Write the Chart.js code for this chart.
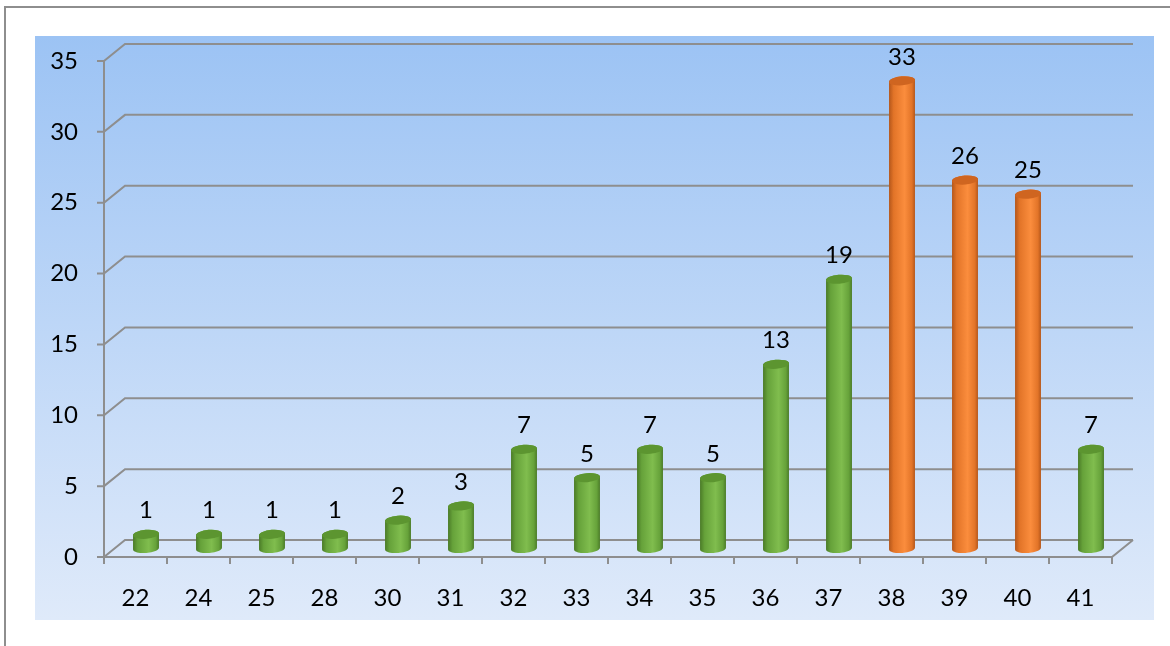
<!DOCTYPE html>
<html>
<head>
<meta charset="utf-8">
<title>Weeks</title>
<script src="https://cdn.jsdelivr.net/npm/chart.js@4.4.1/dist/chart.umd.min.js"></script>
<style>
  html, body { margin: 0; padding: 0; background: #fff; }
  #wrap { position: relative; width: 1170px; height: 646px; overflow: hidden; }
  #frame { position: absolute; left: 4px; top: 6px; width: 1200px; height: 700px;
           border-left: 2px solid #8e8e8e; border-top: 2px solid #8e8e8e; }
  canvas { position: absolute; left: 0; top: 0; }
</style>
</head>
<body>
<div id="wrap">
  <div id="frame"></div>
  <canvas id="myChart" width="1170" height="646"></canvas>
</div>
<script>
// categories and counts
const weeks = ['22', '24', '25', '28', '30', '31', '32', '33', '34', '35', '36', '37', '38', '39', '40', '41'];
const counts = [1, 1, 1, 1, 2, 3, 7, 5, 7, 5, 13, 19, 33, 26, 25, 7];
const orangeWeeks = ['38', '39', '40'];
const yMax = 35;
const yStep = 5;

// 3D look
const DEPTH_X = 21;
const DEPTH_Y = 17;
const LINE = '#8e8e8e';
const FONT = { family: 'Lato, "Open Sans", sans-serif', size: 24 };

const GREEN = { edge: '#4a7a27', mid: '#66a23a', light: '#80bd4e', top: '#5c9530' };
const ORANGE = { edge: '#b4561a', mid: '#e27428', light: '#fb8d3d', top: '#cf6520' };

function line(ctx, pts) {
  ctx.beginPath();
  ctx.moveTo(pts[0][0], pts[0][1]);
  for (let i = 1; i < pts.length; i++) ctx.lineTo(pts[i][0], pts[i][1]);
  ctx.stroke();
}

// background panel + back wall grid + floor
const wallPlugin = {
  id: 'wall',
  beforeDraw(chart) {
    const ctx = chart.ctx;
    const g = ctx.createLinearGradient(0, 36, 0, 620);
    g.addColorStop(0, '#9cc3f4');
    g.addColorStop(1, '#dfeafa');
    ctx.save();
    ctx.fillStyle = g;
    ctx.fillRect(35, 36, 1119, 584);
    ctx.restore();
  },
  beforeDatasetsDraw(chart) {
    const ctx = chart.ctx;
    const { left, right, top, bottom } = chart.chartArea;
    const y = chart.scales.y;
    ctx.save();
    ctx.strokeStyle = LINE;
    ctx.lineWidth = 2;
    y.ticks.forEach(t => {
      const py = y.getPixelForValue(t.value);
      line(ctx, [[left - 7, py], [left, py], [left + DEPTH_X, py - DEPTH_Y], [right + DEPTH_X, py - DEPTH_Y]]);
    });
    // floor edge
    line(ctx, [[left, bottom], [right, bottom], [right + DEPTH_X, bottom - DEPTH_Y]]);
    // y axis
    line(ctx, [[left, top], [left, bottom]]);
    // x ticks at category boundaries
    const n = weeks.length;
    for (let i = 0; i <= n; i++) {
      const px = left + i * (right - left) / n;
      line(ctx, [[px, bottom], [px, bottom + 7]]);
    }
    ctx.restore();
  }
};

function drawCylinder(ctx, cx, top, base, rx, ry, c) {
  const tilt = -0.08;
  const g = ctx.createLinearGradient(cx - rx, 0, cx + rx, 0);
  g.addColorStop(0, c.edge);
  g.addColorStop(0.18, c.mid);
  g.addColorStop(0.6, c.light);
  g.addColorStop(0.88, c.mid);
  g.addColorStop(1, c.edge);
  ctx.fillStyle = g;
  ctx.beginPath();
  ctx.ellipse(cx, top, rx, ry, tilt, Math.PI, 0, false);
  ctx.ellipse(cx, base, rx, ry, tilt, 0, Math.PI, false);
  ctx.closePath();
  ctx.fill();
  ctx.fillStyle = c.top;
  ctx.beginPath();
  ctx.ellipse(cx, top, rx, ry, tilt, 0, Math.PI * 2);
  ctx.fill();
}

// cylinders and value labels
const cylinderPlugin = {
  id: 'cylinders',
  afterDatasetsDraw(chart) {
    const ctx = chart.ctx;
    const meta = chart.getDatasetMeta(0);
    ctx.save();
    meta.data.forEach((bar, i) => {
      const cx = bar.x + DEPTH_X / 2;
      const top = bar.y - DEPTH_Y / 2;
      const base = bar.base - DEPTH_Y / 2;
      const c = orangeWeeks.includes(weeks[i]) ? ORANGE : GREEN;
      drawCylinder(ctx, cx, top, base, 13, 4.5, c);
      ctx.fillStyle = '#000';
      ctx.font = FONT.size + 'px ' + FONT.family;
      ctx.textAlign = 'center';
      ctx.textBaseline = 'alphabetic';
      ctx.fillText(String(counts[i]), cx, top - 16);
    });
    ctx.restore();
  }
};

new Chart('myChart', {
  type: 'bar',
  data: {
    labels: weeks,
    datasets: [{
      data: counts,
      backgroundColor: 'rgba(0,0,0,0)',
      borderWidth: 0
    }]
  },
  options: {
    responsive: false,
    animation: false,
    events: [],
    layout: { padding: { left: 44, right: 58, top: 61, bottom: 0 } },
    plugins: { legend: { display: false }, tooltip: { enabled: false } },
    scales: {
      x: {
        grid: { display: false, drawTicks: false },
        border: { display: false },
        ticks: { padding: 27, color: '#000', font: FONT },
        afterFit: s => { s.height = 89; }
      },
      y: {
        min: 0,
        max: yMax,
        grid: { display: false, drawTicks: false },
        border: { display: false },
        ticks: { stepSize: yStep, padding: 26, color: '#000', font: FONT },
        afterFit: s => { s.width = 60; }
      }
    }
  },
  plugins: [wallPlugin, cylinderPlugin]
});
</script>
</body>
</html>
